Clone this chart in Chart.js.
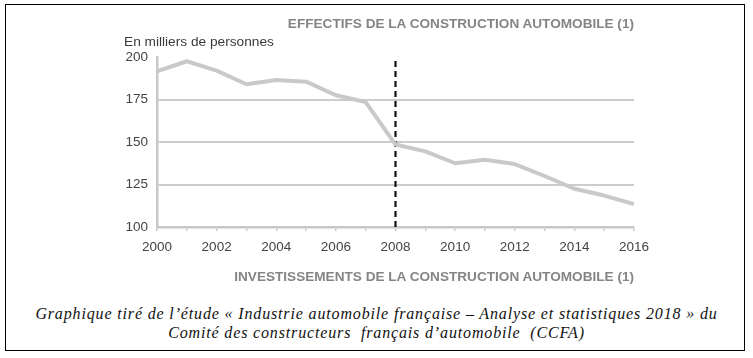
<!DOCTYPE html>
<html>
<head>
<meta charset="utf-8">
<script src="https://cdn.jsdelivr.net/npm/chart.js@4.4.1/dist/chart.umd.min.js"></script>
<style>
  html, body { margin: 0; padding: 0; background: #fff; }
  #page { position: relative; width: 753px; height: 358px; overflow: hidden; }
  #frame { position: absolute; left: 5px; top: 4px; width: 740px; height: 347px; border: 1.5px solid #000; box-sizing: border-box; }
  #wrap { position: absolute; left: 0; top: 0; width: 753px; height: 290px; }
  .head { position: absolute; font-family: "Liberation Sans", Arial, sans-serif; font-weight: bold; color: #858585; font-size: 13.6px; white-space: nowrap; }
  #unit { position: absolute; left: 124px; top: 34px; font-family: "Liberation Sans", Arial, sans-serif; font-size: 13.7px; color: #3a3a3a; white-space: nowrap; }
  #caption { position: absolute; left: 0; width: 753px; top: 304px; text-align: center; font-family: "Liberation Serif", "Times New Roman", serif; font-style: italic; font-size: 16px; letter-spacing: 0.85px; line-height: 19px; color: #111; }
</style>
</head>
<body>
<div id="page">
  <div id="wrap"><canvas id="myChart" width="753" height="290"></canvas></div>
  <div class="head" id="title1" style="right:119px; top:16px;">EFFECTIFS DE LA CONSTRUCTION AUTOMOBILE (1)</div>
  <div id="unit">En milliers de personnes</div>
  <div class="head" id="title2" style="right:119px; top:269px;">INVESTISSEMENTS DE LA CONSTRUCTION AUTOMOBILE (1)</div>
  <div id="caption">Graphique tiré de l’étude « Industrie automobile française – Analyse et statistiques 2018 » du<br>Comité des constructeurs&nbsp; français d’automobile&nbsp; (CCFA)</div>
  <div id="frame"></div>
</div>
<script>
// données
const years = [2000, 2001, 2002, 2003, 2004, 2005, 2006, 2007, 2008, 2009, 2010, 2011, 2012, 2013, 2014, 2015, 2016];
const effectifs = [191.5, 197.5, 192, 184, 186.5, 185.5, 177.5, 173.5, 148.5, 144.5, 137.5, 139.5, 137, 130, 122.5, 118.5, 113.5];
const yTicks = [100, 125, 150, 175, 200];
const markerYear = 2008;
const markerRange = [100, 198.5];

const points = years.map((y, i) => ({ x: y, y: effectifs[i] }));
const marker = markerRange.map(v => ({ x: markerYear, y: v }));

const ctx = document.getElementById("myChart");
const chart = new Chart(ctx, {
  type: "line",
  data: {
    datasets: [
      {
        data: points,
        borderColor: "#c9c9c9",
        borderWidth: 4,
        pointRadius: 0,
        tension: 0,
        borderJoinStyle: "round"
      },
      {
        data: marker,
        borderColor: "#111",
        borderWidth: 2.2,
        borderDash: [6, 4],
        pointRadius: 0
      }
    ]
  },
  options: {
    responsive: false,
    animation: false,
    events: [],
    layout: { padding: { left: 100, top: 57, right: 119, bottom: 33 } },
    plugins: { legend: { display: false }, tooltip: { enabled: false } },
    scales: {
      x: {
        type: "linear",
        min: years[0],
        max: years[years.length - 1],
        afterFit: s => { s.height = 30; },
        afterBuildTicks: s => { s.ticks = years.map(v => ({ value: v })); },
        ticks: {
          autoSkip: false,
          maxRotation: 0,
          padding: 8,
          color: "#444",
          font: { family: "Liberation Sans", size: 13.5 },
          callback: v => (v % 2 === 0 ? String(v) : "")
        },
        grid: { drawOnChartArea: false, drawTicks: true, tickLength: 4, color: "#c8c8c8", lineWidth: 1.5 },
        border: { display: true, color: "#c8c8c8", width: 2.5 }
      },
      y: {
        min: 100,
        max: 200,
        afterFit: s => { s.width = 57; },
        afterBuildTicks: s => { s.ticks = yTicks.map(v => ({ value: v })); },
        ticks: {
          padding: 9,
          color: "#444",
          font: { family: "Liberation Sans", size: 13.5 }
        },
        grid: {
          drawTicks: false,
          lineWidth: 2,
          color: c => (c.tick && (c.tick.value === 100 || c.tick.value === 200) ? "rgba(0,0,0,0)" : "#cdcdcd")
        },
        border: { display: true, color: "#c8c8c8", width: 2.5 }
      }
    }
  }
});
</script>
</body>
</html>
